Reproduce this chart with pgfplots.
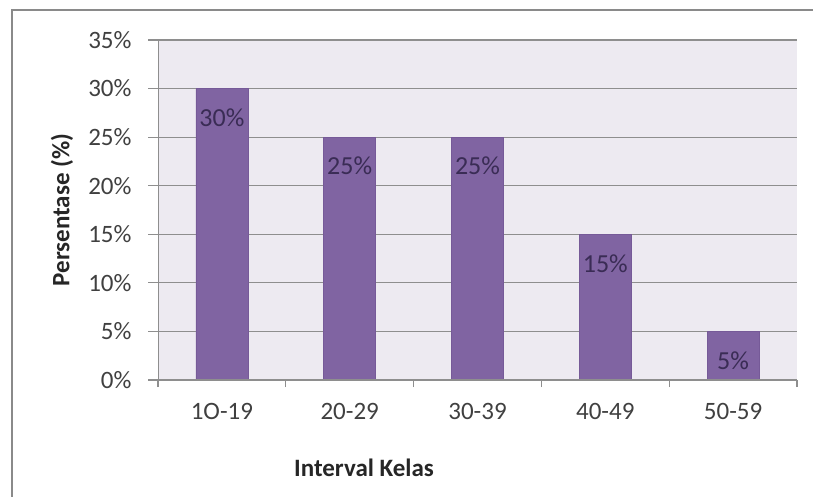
\documentclass[border=0pt]{standalone}
\usepackage{fontspec}
\setmainfont{Carlito}
\usepackage{pgfplots}
\pgfplotsset{compat=1.18}

\definecolor{barfill}{HTML}{8064A2}
\definecolor{baredge}{HTML}{765A98}
\definecolor{plotbg}{HTML}{EDEAF1}
\definecolor{gridgray}{HTML}{8E8E8E}
\definecolor{ticktext}{HTML}{404040}
\definecolor{labeltext}{HTML}{3A2C55}
\definecolor{framegray}{HTML}{8A8A8A}

\begin{document}
\begin{tikzpicture}[x=1pt,y=1pt]
\useasboundingbox (0,0) rectangle (813,-497);
% chart frame
\draw[framegray, line width=2pt] (12,-10) rectangle (830,-520);

\begin{axis}[
  at={(158pt,-380pt)}, anchor=south west,
  scale only axis, width=639pt, height=340pt,
  xmin=-0.5, xmax=4.5, ymin=0, ymax=35,
  axis line style={draw=none},
  xtick pos=bottom, ytick pos=left,
  axis background/.style={fill=plotbg, draw=none},
  /pgf/number format/assume math mode=true,
  ytick={0,5,...,35},
  yticklabels={0\%,5\%,10\%,15\%,20\%,25\%,30\%,35\%},
  xmajorgrids=false, ymajorgrids,
  grid style={draw=gridgray, line width=1.2pt},
  y tick style={draw=gridgray, line width=1.2pt},
  tick align=outside, major tick length=10pt,
  xtick={0,1,2,3,4},
  xticklabels={1O-19,20-29,30-39,40-49,50-59},
  x tick style={draw=none},
  extra x ticks={-0.5,0.5,1.5,2.5,3.5,4.5},
  extra x tick labels={},
  extra x tick style={major tick length=7pt, xmajorgrids=false,
    x tick style={draw=gridgray, line width=1.2pt}},
  tick label style={font=\fontsize{25}{30}\selectfont, text=ticktext},
  xticklabel style={yshift=-10pt},
  yticklabel style={xshift=-13pt},
  ybar, bar width=52pt,
  nodes near coords={\pgfmathprintnumber{\pgfplotspointmeta}\%},
  every node near coord/.append style={anchor=center, yshift=-29pt,
    font=\fontsize{26}{30}\selectfont, text=labeltext},
]
\addplot[fill=barfill, draw=baredge, line width=0.8pt]
  coordinates {(0,30) (1,25) (2,25) (3,15) (4,5)};
% left and bottom spines only
\draw[gridgray, line width=1.2pt] (rel axis cs:0,1) -- (rel axis cs:0,0) -- (rel axis cs:1,0);
\end{axis}

\node[rotate=90, font=\bfseries\fontsize{25}{30}\selectfont, text=black!85]
  at (62,-210) {Persentase (\%)};
\node[font=\bfseries\fontsize{25}{30}\selectfont, text=black!85]
  at (364,-468) {Interval Kelas};
\end{tikzpicture}
\end{document}
